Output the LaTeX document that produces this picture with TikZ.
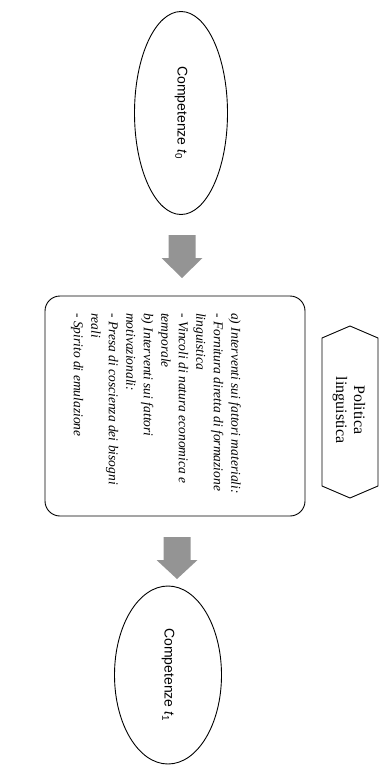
\documentclass[tikz,border=0pt]{standalone}
\usepackage{fontspec}
\setmainfont{Liberation Serif}
\newfontfamily\labelfont{Liberation Sans}
\usetikzlibrary{shapes.geometric}
\begin{document}
\begin{tikzpicture}[x=1pt,y=-1pt,
  ell/.style={ellipse, draw, line width=0.9pt, inner sep=0pt, rotate=-90,
    font=\labelfont\fontsize{14}{16}\selectfont},
  blockarrow/.style={fill=black!42, draw=none},
  outline/.style={draw, line width=0.9pt}]
\useasboundingbox (0,0) rectangle (385,765);
\fill[white] (0,0) rectangle (385,765);

% ellipses
\node[ell, minimum width=203pt, minimum height=93pt] (c0) at (181,113)
  {Competenze \textit{t}\textsubscript{0}};
\node[ell, minimum width=178pt, minimum height=107pt] (c1) at (168,675)
  {Competenze \textit{t}\textsubscript{1}};

% block arrows
\coordinate (a1) at (182,235);
\fill[blockarrow] (a1) ++(-13.5,0) -- ++(27,0) -- ++(0,23) -- ++(7,0)
  -- ++(-20.5,20) -- ++(-20.5,-20) -- ++(7,0) -- cycle;
\coordinate (a2) at (177,537);
\fill[blockarrow] (a2) ++(-13.5,0) -- ++(27,0) -- ++(0,23) -- ++(7,0)
  -- ++(-20.5,19) -- ++(-20.5,-19) -- ++(7,0) -- cycle;

% rounded box
\node[outline, rounded corners=15pt, minimum width=260pt, minimum height=220pt,
  inner sep=0pt] (box) at (175,406) {};
\node[rotate=-90, anchor=north west, align=left, inner sep=0pt,
  font=\itshape\fontsize{13.5}{17.5}\selectfont] (bt) at (241,313)
  {a) Interventi sui fattori materiali:\\
   - Fornitura diretta di formazione\\
   linguistica\\
   - Vincoli di natura economica e\\
   temporale\\
   b) Interventi sui fattori\\
   motivazionali:\\
   - Presa di coscienza dei bisogni\\
   reali\\
   - Spirito di emulazione};

% hexagon
\node[rotate=-90, align=center, inner sep=0pt,
  font=\fontsize{16}{18}\selectfont] (pol) at (349,410) {Politica\\linguistica};
\draw[line width=0.9pt] (350,326) -- (378,338) -- (378,486) -- (350,498)
  -- (322,486) -- (322,338) -- cycle;
\end{tikzpicture}
\end{document}
